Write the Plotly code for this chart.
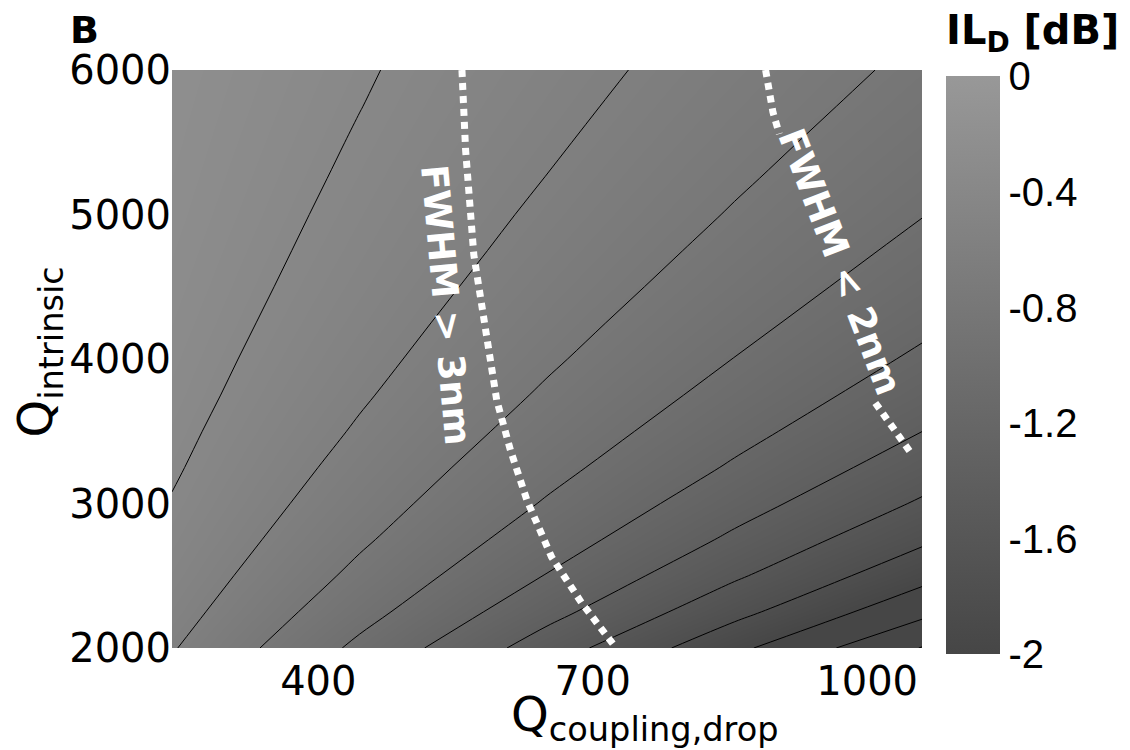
import plotly.graph_objects as go

# ---- data ----
# Q_coupling,drop grid (x) and Q_intrinsic grid (y)
qc_grid = [240, 445, 650, 855, 1060]
qi_grid = [2000, 2250, 2500, 2750, 3000, 3250, 3500, 3750, 4000,
           4250, 4500, 4750, 5000, 5250, 5500, 5750, 6000]
# IL_D [dB] estimated at each grid node (rows follow qi_grid, columns follow qc_grid)
il_grid = [
    [-0.586, -1.042, -1.497, -1.953, -2.408],
    [-0.527, -0.932, -1.337, -1.742, -2.147],
    [-0.480, -0.844, -1.208, -1.573, -1.937],
    [-0.441, -0.772, -1.103, -1.435, -1.766],
    [-0.409, -0.712, -1.016, -1.320, -1.623],
    [-0.381, -0.662, -0.942, -1.222, -1.502],
    [-0.358, -0.618, -0.878, -1.139, -1.399],
    [-0.337, -0.580, -0.823, -1.066, -1.309],
    [-0.320, -0.547, -0.775, -1.003, -1.231],
    [-0.304, -0.518, -0.733, -0.947, -1.161],
    [-0.290, -0.492, -0.695, -0.897, -1.100],
    [-0.278, -0.469, -0.661, -0.853, -1.045],
    [-0.266, -0.449, -0.631, -0.813, -0.995],
    [-0.256, -0.430, -0.603, -0.777, -0.950],
    [-0.247, -0.413, -0.578, -0.744, -0.910],
    [-0.239, -0.397, -0.555, -0.714, -0.872],
    [-0.231, -0.383, -0.534, -0.686, -0.838],
]

# FWHM boundary curves (white dotted)
fwhm3_qc = [557, 561, 570, 588, 595, 610, 628, 655, 688, 723]
fwhm3_qi = [6000, 5446, 4720, 4014, 3716, 3370, 3024, 2630, 2311, 2021]
fwhm2_top_qc = [889, 897, 904]
fwhm2_top_qi = [6000, 5709, 5557]
fwhm2_bot_qc = [1009, 1027, 1047]
fwhm2_bot_qi = [3696, 3530, 3357]

x_ticks = [400, 700, 1000]
y_ticks = [2000, 3000, 4000, 5000, 6000]
cb_ticks = [0, -0.4, -0.8, -1.2, -1.6, -2]
cb_ticktext = ["0", "-0.4", "-0.8", "-1.2", "-1.6", "-2"]

FONT = "DejaVu Sans, Liberation Sans, Arial, sans-serif"
FONT_CB = "Liberation Sans, Arial, sans-serif"
GRAYS = [[0, "rgb(70,70,70)"], [1, "rgb(152,152,152)"]]

fig = go.Figure()
# filled shading + colorbar
fig.add_trace(go.Contour(
    x=qc_grid, y=qi_grid, z=il_grid,
    zmin=-2, zmax=0, autocontour=False,
    colorscale=GRAYS,
    contours=dict(start=-2.4, end=-0.2, size=0.2, coloring="heatmap", showlines=False),
    line=dict(width=0),
    colorbar=dict(
        x=1.032, xanchor="left", xpad=0, y=0.489, yanchor="middle", ypad=0,
        len=1.0, thickness=54, outlinewidth=0,
        tickvals=cb_ticks, ticktext=cb_ticktext, ticks="",
        tickfont=dict(family=FONT_CB, size=40, color="black"),
    ),
    hoverinfo="skip",
))
# thin black contour lines
fig.add_trace(go.Contour(
    x=qc_grid, y=qi_grid, z=il_grid, autocontour=False,
    contours=dict(start=-2.4, end=-0.2, size=0.2, coloring="none", showlines=True),
    line=dict(color="black", width=1), showscale=False, hoverinfo="skip",
))

dot_line = dict(color="white", width=7, dash="7px,6px")
fig.add_trace(go.Scatter(x=fwhm3_qc, y=fwhm3_qi, mode="lines", line=dot_line, hoverinfo="skip"))
fig.add_trace(go.Scatter(x=fwhm2_top_qc, y=fwhm2_top_qi, mode="lines", line=dot_line, hoverinfo="skip"))
fig.add_trace(go.Scatter(x=fwhm2_bot_qc, y=fwhm2_bot_qi, mode="lines", line=dot_line, hoverinfo="skip"))

fig.update_xaxes(range=[240, 1060], tickvals=x_ticks, ticks="", showgrid=False, zeroline=False,
                 showline=False, ticklabelstandoff=6,
                 tickfont=dict(family=FONT, size=40, color="black"))
fig.update_yaxes(range=[2000, 6000], tickvals=y_ticks, ticks="", showgrid=False, zeroline=False,
                 showline=False, tickfont=dict(family=FONT, size=40, color="black"))

ann = [
    dict(text="<b>B</b>", x=-0.1173, y=1.069, size=38, angle=0, color="black"),
    dict(text="<b>IL<sub>D</sub> [dB]</b>", x=1.1467, y=1.064, size=40, angle=0, color="black"),
    dict(text="<b>FWHM > 3nm</b>", x=0.3653, y=0.593, size=37, angle=85, color="white"),
    dict(text="<b>FWHM < 2nm</b>", x=0.89, y=0.668, size=37, angle=69, color="white"),
    dict(text="Q<sub>coupling,drop</sub>", x=0.6307, y=-0.121, size=48, angle=0, color="black"),
    dict(text="Q<sub>intrinsic</sub>", x=-0.178, y=0.512, size=48, angle=-90, color="black"),
]
for a in ann:
    fig.add_annotation(text=a["text"], x=a["x"], y=a["y"], xref="paper", yref="paper",
                       xanchor="center", yanchor="middle", showarrow=False, textangle=a["angle"],
                       font=dict(family=FONT, size=a["size"], color=a["color"]))

# page body adds an 8px offset, so margins are reduced by 8px on the left/top
fig.update_layout(width=1130, height=750, margin=dict(l=164, r=216, t=62, b=110),
                  paper_bgcolor="white", plot_bgcolor="white", showlegend=False)

fig.write_html("out.html")
